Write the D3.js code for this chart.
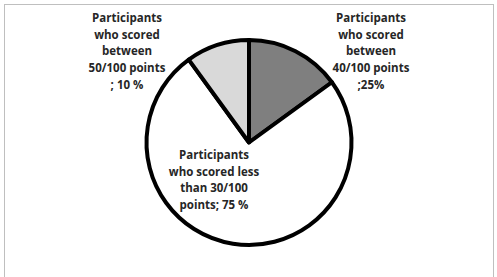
<!DOCTYPE html>
<html><head><meta charset="utf-8">
<script src="https://cdn.jsdelivr.net/npm/d3@7"></script>
<style>body{margin:0;background:#fff}svg{display:block}</style>
</head><body>
<script>
const categories = ["Participants who scored between 40/100 points", "Participants who scored less than 30/100 points", "Participants who scored between 50/100 points"];
const values = [15, 75, 10];
const colors = ["#7f7f7f", "#ffffff", "#d9d9d9"];
const labelLines = [
  ["Participants", "who scored", "between", "40/100 points", ";25%"],
  ["Participants", "who scored less", "than 30/100", "points; 75 %"],
  ["Participants", "who scored", "between", "50/100 points", "; 10 %"]
];
const labelPos = [[371, 18], [214, 155], [127, 18]];

const W = 497, H = 277;
const svg = d3.select("body").append("svg").attr("width", W).attr("height", H);
svg.append("rect").attr("x", 4.5).attr("y", 4.5).attr("width", 489).attr("height", 290)
  .attr("fill", "#fff").attr("stroke", "#bfbfbf").attr("stroke-width", 1);

const cx = 249, cy = 142.5, r = 102.5;
const pie = d3.pie().sort(null).value(d => d)(values);
const arc = d3.arc().innerRadius(0).outerRadius(r);
const g = svg.append("g").attr("transform", `translate(${cx},${cy})`);
g.selectAll("path").data(pie).join("path")
  .attr("d", arc)
  .attr("fill", (d, i) => colors[i])
  .attr("stroke", "#000").attr("stroke-width", 4).attr("stroke-linejoin", "round");

labelLines.forEach((lines, i) => {
  const t = svg.append("text").attr("text-anchor", "middle")
    .attr("font-family", "'Open Sans', sans-serif").attr("font-weight", 700)
    .attr("font-size", 11.5).attr("fill", "#262626");
  lines.forEach((ln, j) => {
    t.append("tspan").attr("x", labelPos[i][0]).attr("y", labelPos[i][1] + j * 16.7)
      .attr("dy", "0.35em").text(ln);
  });
});
</script>
</body></html>
